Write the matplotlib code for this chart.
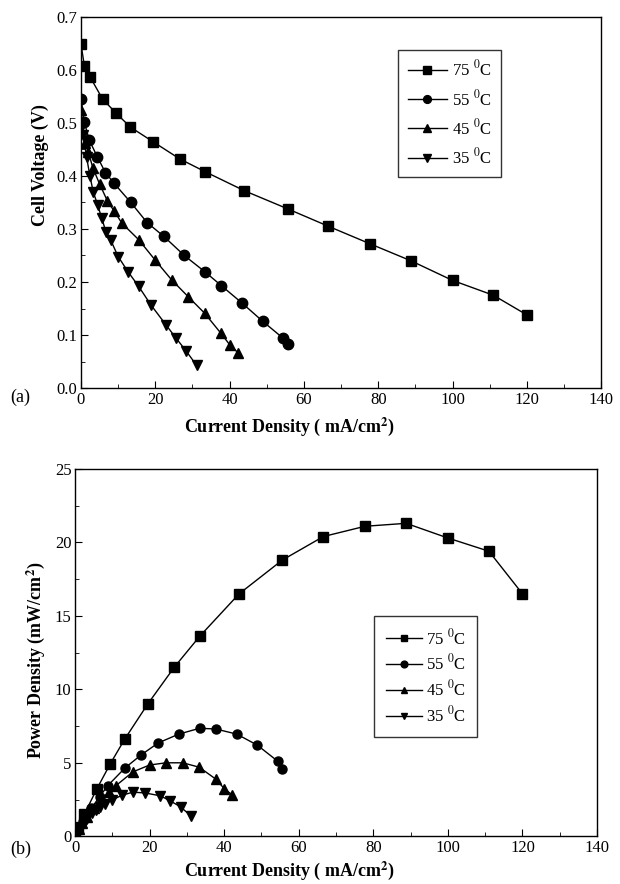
import numpy as np
import matplotlib
matplotlib.use("Agg")
import matplotlib.pyplot as plt
from matplotlib.ticker import MultipleLocator

plt.rcParams["font.family"] = ["Liberation Serif", "DejaVu Serif"]
plt.rcParams["mathtext.fontset"] = "stix"

labels = [r"75 $^{\rm 0}$C", r"55 $^{\rm 0}$C", r"45 $^{\rm 0}$C", r"35 $^{\rm 0}$C"]
markers = ["s", "o", "^", "v"]

# current density (mA/cm2) per temperature
i75 = [0, 0.9, 2.5, 5.8, 9.5, 13.3, 19.5, 26.6, 33.4, 44.0, 55.6, 66.6, 77.8, 88.8, 100, 111, 120]
i55 = [0, 0.9, 2.2, 4.4, 6.6, 8.8, 13.4, 17.8, 22.3, 27.8, 33.4, 37.8, 43.4, 48.9, 54.4, 55.6]
i45 = [0, 1.1, 2.0, 3.2, 5.0, 7.1, 9.0, 11.0, 15.5, 20.0, 24.4, 28.9, 33.3, 37.7, 40.0, 42.2]
i35 = [0, 0.6, 1.5, 2.4, 3.3, 4.5, 5.6, 6.7, 8.0, 10.0, 12.7, 15.5, 18.8, 22.9, 25.6, 28.3, 31.1]

# cell voltage (V)
v75 = [0.649, 0.608, 0.586, 0.545, 0.518, 0.492, 0.464, 0.432, 0.408, 0.372, 0.338, 0.305, 0.272, 0.240, 0.203, 0.175, 0.138]
v55 = [0.545, 0.502, 0.468, 0.436, 0.406, 0.387, 0.350, 0.312, 0.286, 0.250, 0.219, 0.193, 0.160, 0.126, 0.094, 0.083]
v45 = [0.525, 0.462, 0.445, 0.415, 0.385, 0.353, 0.333, 0.311, 0.280, 0.241, 0.204, 0.172, 0.141, 0.103, 0.082, 0.067]
v35 = [0.491, 0.477, 0.436, 0.400, 0.370, 0.345, 0.320, 0.295, 0.279, 0.248, 0.219, 0.192, 0.157, 0.119, 0.094, 0.070, 0.043]

# power density (mW/cm2)
p75 = [0, 0.55, 1.5, 3.2, 4.95, 6.6, 9.0, 11.5, 13.6, 16.5, 18.8, 20.4, 21.1, 21.3, 20.3, 19.4, 16.5]
p55 = [0, 0.45, 1.03, 1.9, 2.7, 3.45, 4.65, 5.55, 6.35, 6.95, 7.35, 7.3, 6.95, 6.2, 5.1, 4.6]
p45 = [0, 0.5, 0.9, 1.33, 1.9, 2.5, 3.0, 3.45, 4.38, 4.85, 5.0, 5.0, 4.7, 3.9, 3.25, 2.8]
p35 = [0, 0.29, 0.65, 0.96, 1.22, 1.55, 1.8, 1.98, 2.2, 2.48, 2.8, 3.0, 2.95, 2.75, 2.4, 2.0, 1.38]

currents = [i75, i55, i45, i35]
volts = [v75, v55, v45, v35]
powers = [p75, p55, p45, p35]

fig = plt.figure(figsize=(6.2, 8.84), dpi=100)
ax1 = fig.add_axes([0.1306, 0.561, 0.839, 0.420])
ax2 = fig.add_axes([0.121, 0.054, 0.842, 0.4155])


def style(ax, xlab_x, xlab_y):
    ax.set_xlim(0, 140)
    ax.xaxis.set_major_locator(MultipleLocator(20))
    ax.xaxis.set_minor_locator(MultipleLocator(10))
    ax.tick_params(which="both", direction="in", top=False, right=False, labelsize=12)
    ax.tick_params(which="major", length=5, pad=2.5)
    ax.tick_params(which="minor", length=3)
    ax.set_xlabel("Current Density ( mA/cm$^{\\bf 2}$)", fontsize=13, fontweight="bold")
    ax.xaxis.set_label_coords(xlab_x, xlab_y)
    for s in ax.spines.values():
        s.set_linewidth(1.0)


for x, y, m, lab in zip(currents, volts, markers, labels):
    ax1.plot(x, y, color="black", lw=1.0, marker=m, ms=7.5, label=lab)
style(ax1, 0.4, -0.074)
ax1.set_ylim(0, 0.7)
ax1.yaxis.set_major_locator(MultipleLocator(0.1))
ax1.yaxis.set_minor_locator(MultipleLocator(0.05))
ax1.yaxis.set_major_formatter(plt.FormatStrFormatter("%.1f"))
ax1.set_ylabel("Cell Voltage (V)", fontsize=13, fontweight="bold")
ax1.yaxis.set_label_coords(-0.062, 0.60)
leg1 = ax1.legend(loc="upper left", bbox_to_anchor=(0.61, 0.911), borderaxespad=0, fontsize=12,
                  frameon=True, fancybox=False, edgecolor="black", handlelength=2.3,
                  labelspacing=0.55, borderpad=0.6, handletextpad=0.3, markerscale=0.75)
leg1.get_frame().set_linewidth(1.0)

for x, y, m, lab in zip(currents, powers, markers, labels):
    ax2.plot(x, y, color="black", lw=1.0, marker=m, ms=6.5, label=lab)
style(ax2, 0.41, -0.062)
ax2.set_ylim(0, 25)
ax2.yaxis.set_major_locator(MultipleLocator(5))
ax2.yaxis.set_minor_locator(MultipleLocator(2.5))
ax2.set_ylabel("Power Density (mW/cm$^{\\bf 2}$)", fontsize=13, fontweight="bold")
ax2.yaxis.set_label_coords(-0.054, 0.48)
leg2 = ax2.legend(loc="upper left", bbox_to_anchor=(0.573, 0.599), borderaxespad=0, fontsize=12,
                  frameon=True, fancybox=False, edgecolor="black", handlelength=2.2,
                  labelspacing=0.35, borderpad=0.7, handletextpad=0.2, markerscale=0.75)
leg2.get_frame().set_linewidth(1.0)

fig.text(0.016, 0.545, "(a)", fontsize=13)
fig.text(0.016, 0.034, "(b)", fontsize=13)

fig.savefig("out.png", dpi=100)
